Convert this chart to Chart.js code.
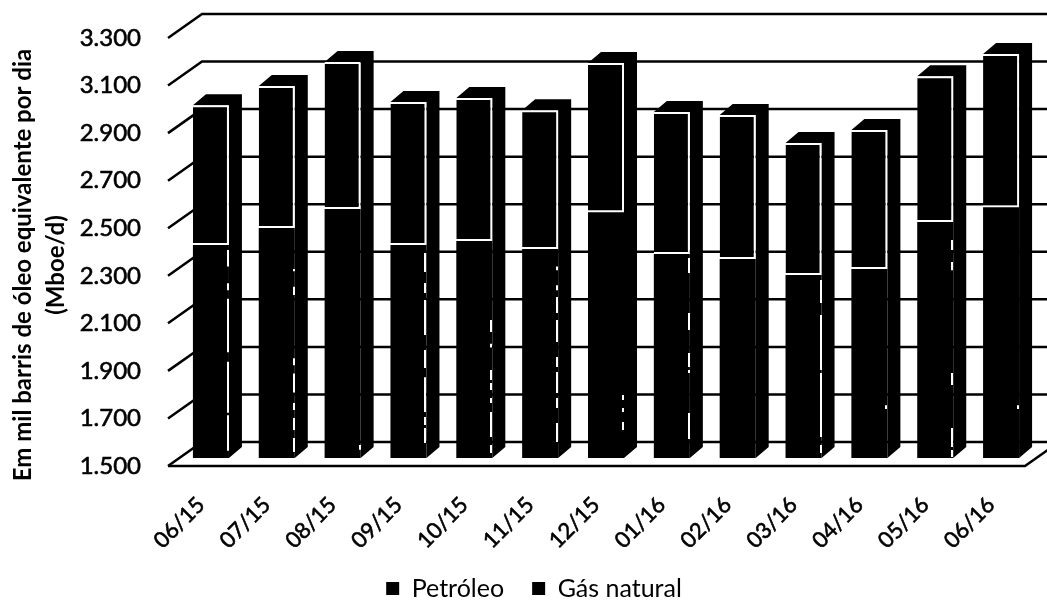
<!DOCTYPE html>
<html>
<head>
<meta charset="utf-8">
<script src="https://cdn.jsdelivr.net/npm/chart.js@4/dist/chart.umd.min.js"></script>
<style>
  html, body { margin: 0; background: #fff; }
  canvas { display: block; }
</style>
</head>
<body>
<canvas id="prodChart" width="1047" height="600"></canvas>
<script>
  const months = ['06/15', '07/15', '08/15', '09/15', '10/15', '11/15', '12/15', '01/16', '02/16', '03/16', '04/16', '05/16', '06/16'];
  const petroleo = [2396, 2467, 2547, 2396, 2413, 2379, 2534, 2358, 2337, 2270, 2295, 2492, 2555];
  const gasNatural = [588, 597, 618, 601, 601, 584, 627, 597, 605, 555, 584, 614, 644];
  const axisMin = 1500;
  const axisMax = 3300;
  const axisStep = 200;
  const yTitleLines = ['Em mil barris de óleo equivalente por dia', '(Mboe/d)'];

  // What is left of the white outline on the petroleum part of each bar (axis units)
  const outlineTraces = [
    [[2375, 2305], [2235, 2205], [2170, 1945], [1905, 1690], [1680, 1530]],
    [[2295, 2285], [2220, 2185], [1920, 1890], [1855, 1775], [1731, 1702], [1668, 1618], [1584, 1525]],
    [[1555, 1535]],
    [[2362, 2282], [2236, 2194], [2164, 2017], [1954, 1878], [1840, 1693], [1672, 1639], [1626, 1563]],
    [[2080, 2030], [1980, 1965], [1870, 1828], [1815, 1786], [1752, 1731], [1693, 1588], [1555, 1521]],
    [[2305, 2290], [2227, 2206], [2177, 2110], [2080, 1988], [1925, 1883], [1862, 1773], [1752, 1710], [1647, 1567]],
    [[1765, 1744], [1710, 1693], [1651, 1618]],
    [[2341, 2278], [2110, 2038], [1942, 1883], [1870, 1857], [1689, 1580]],
    [],
    [[2249, 2152], [2101, 1870], [1857, 1588], [1555, 1521]],
    [[1722, 1706]],
    [[2417, 2375], [2324, 2290], [1857, 1807], [1626, 1546], [1534, 1504]],
    [[1722, 1706]]
  ];

  const FONT = 'Lato, "Open Sans", sans-serif';
  const depthX = 13;
  const depthY = 11;

  // Fake 3D box: back wall lines, floor, depth faces of the bars
  const box3d = {
    id: 'box3d',
    afterLayout(chart) {
      // legend sits lower and right of where Chart.js puts it
      chart.legend.left = 34;
      chart.legend.top += 11;
      chart.legend.bottom += 11;
      // x labels get clipped to the scale box, they run down past it here
      chart.scales.x.bottom = 565;
    },
    beforeDatasetsDraw(chart) {
      const { ctx, chartArea, scales: { y } } = chart;
      const frontX = chartArea.left - 10;
      const backX = chartArea.left + 24;
      const floorRight = chartArea.right - 9;
      ctx.save();
      ctx.strokeStyle = '#000';
      ctx.lineWidth = 2.5;
      y.ticks.forEach(t => {
        const py = y.getPixelForValue(t.value);
        ctx.beginPath();
        ctx.moveTo(frontX, py + 8);
        ctx.lineTo(backX, py - 16);
        ctx.lineTo(chart.width, py - 16);
        ctx.stroke();
      });
      const base = y.getPixelForValue(axisMin);
      ctx.beginPath();
      ctx.moveTo(frontX, base + 8);
      ctx.lineTo(floorRight, base + 8);
      ctx.lineTo(floorRight + 34, base - 16);
      ctx.stroke();

      ctx.fillStyle = '#000';
      chart.getDatasetMeta(1).data.forEach(bar => {
        const left = bar.x - bar.width / 2;
        const right = bar.x + bar.width / 2;
        ctx.beginPath();
        ctx.moveTo(left, bar.y);
        ctx.lineTo(left + depthX, bar.y - depthY);
        ctx.lineTo(right + depthX, bar.y - depthY);
        ctx.lineTo(right + depthX, base - depthY);
        ctx.lineTo(right, base);
        ctx.lineTo(right, bar.y);
        ctx.closePath();
        ctx.fill();
      });
      ctx.restore();
    },
    afterDatasetsDraw(chart) {
      const { ctx, scales: { y } } = chart;
      ctx.save();
      ctx.strokeStyle = '#fff';
      ctx.lineWidth = 2;
      chart.getDatasetMeta(0).data.forEach((bar, i) => {
        const x = Math.round(bar.x + bar.width / 2) - 1;
        outlineTraces[i].forEach(([from, to]) => {
          ctx.beginPath();
          ctx.moveTo(x, y.getPixelForValue(from));
          ctx.lineTo(x, y.getPixelForValue(to));
          ctx.stroke();
        });
      });
      ctx.restore();
    },
    afterDraw(chart) {
      // axis title sits lower than the axis centre, so the built-in one can't be used
      const { ctx } = chart;
      ctx.save();
      ctx.translate(0, 265);
      ctx.rotate(-Math.PI / 2);
      ctx.fillStyle = '#000';
      ctx.textAlign = 'center';
      ctx.textBaseline = 'middle';
      ctx.font = 'bold 24px ' + FONT;
      ctx.fillText(yTitleLines[0], 0, 23);
      ctx.fillText(yTitleLines[1], 0, 56);
      ctx.restore();
    }
  };

  const ctx = document.getElementById('prodChart').getContext('2d');
  const prodChart = new Chart(ctx, {
    type: 'bar',
    plugins: [box3d],
    data: {
      labels: months,
      datasets: [{
        label: 'Petróleo',
        data: petroleo,
        backgroundColor: '#000',
        borderWidth: 0
      }, {
        label: 'Gás natural',
        data: gasNatural,
        backgroundColor: '#000',
        borderColor: '#fff',
        borderWidth: { top: 2, right: 2, bottom: 2, left: 0 },
        borderSkipped: false
      }]
    },
    options: {
      responsive: false,
      animation: false,
      barPercentage: 0.547,
      categoryPercentage: 1,
      layout: { padding: { top: 30, right: 13 } },
      plugins: {
        tooltip: { enabled: false },
        legend: {
          position: 'bottom',
          labels: {
            color: '#000',
            font: { family: FONT, size: 25, lineHeight: 1 },
            boxWidth: 13,
            boxHeight: 13,
            padding: 28,
            generateLabels: (chart) => chart.data.datasets.map((ds, i) => ({
              text: ds.label,
              fillStyle: '#000',
              strokeStyle: '#000',
              lineWidth: 0,
              datasetIndex: i
            }))
          }
        }
      },
      scales: {
        x: {
          stacked: true,
          grid: { display: false, drawTicks: false },
          border: { display: false },
          afterFit: (scale) => {
            scale.height = 142 - scale.chart.legend.height;
            scale.paddingLeft = 0;
            scale.paddingRight = 0;
          },
          ticks: {
            color: '#000',
            font: { family: FONT, size: 22 },
            textStrokeColor: '#000',
            textStrokeWidth: 0.6,
            minRotation: 45,
            maxRotation: 45,
            padding: 34,
            labelOffset: -10,
            autoSkip: false
          }
        },
        y: {
          stacked: true,
          min: axisMin,
          max: axisMax,
          grid: { display: false, drawTicks: false },
          border: { display: false },
          afterFit: (scale) => {
            scale.width = 178;
            // tick padding would otherwise push the plot area down
            scale.paddingTop = 0;
            scale.paddingBottom = 0;
          },
          ticks: {
            color: '#000',
            font: { family: FONT, size: 24 },
            textStrokeColor: '#000',
            textStrokeWidth: 0.6,
            stepSize: axisStep,
            padding: 37,
            labelOffset: 8,
            callback: (v) => String(v).replace(/(\d)(\d{3})$/, '$1.$2')
          }
        }
      }
    }
  });
</script>
</body>
</html>
